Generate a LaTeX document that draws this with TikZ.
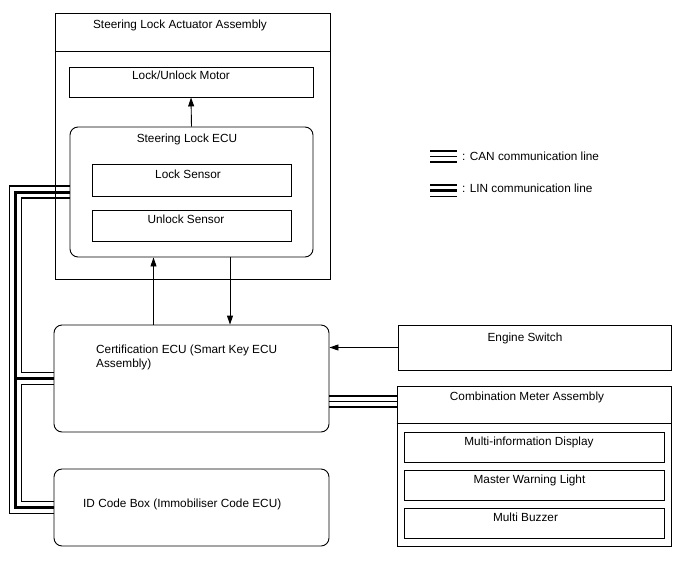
\documentclass[tikz,border=0pt]{standalone}
\usepackage{fontspec}
\setmainfont{Liberation Sans}
\usetikzlibrary{arrows.meta, calc}

\begin{document}
\begin{tikzpicture}[x=1pt,y=-1pt,
  box/.style={draw,line width=0.9pt,inner sep=0pt},
  ecu/.style={box,rounded corners=8pt},
  txt/.style={font=\fontsize{11.8}{14}\selectfont,inner sep=0pt,anchor=base},
  sig/.style={line width=0.9pt,-{Triangle[length=9pt,width=6pt]}},
  linthin/.style={line width=1.2pt},
  linthick/.style={line width=3pt},
  canline/.style={line width=1.5pt}]
  \useasboundingbox (0,0) rectangle (688,560);
  % steering lock actuator assembly
  \node[box,minimum width=275pt,minimum height=266pt] (actuator) at(192.5,146){};
  \draw[line width=0.9pt] ($(actuator.north west)+(0,39)$)--($(actuator.north east)+(0,39)$);
  \node[txt] (actuatortitle) at(180,28.5){Steering Lock Actuator Assembly};
  \node[box,minimum width=244pt,minimum height=30pt] (motor) at(191,82){};
  \node[txt] (motortext) at(181,79.5){Lock/Unlock Motor};
  \node[ecu,minimum width=243pt,minimum height=130pt] (slecu) at(191.5,192){};
  \node[txt] (slecutext) at(187,142.5){Steering Lock ECU};
  \node[box,minimum width=199pt,minimum height=32pt] (locksens) at(191.5,180){};
  \node[txt] (locktext) at(188,178.5){Lock Sensor};
  \node[box,minimum width=199pt,minimum height=31pt] (unlocksens) at(191.5,225.5){};
  \node[txt] (unlocktext) at(186,223.5){Unlock Sensor};
  % certification ecu and id code box
  \node[ecu,minimum width=275pt,minimum height=107pt] (certecu) at(191.5,378.5){};
  \node[txt,anchor=base west,align=left] (certtext) at(96,367.5){Certification ECU (Smart Key ECU\\Assembly)};
  \node[ecu,minimum width=275pt,minimum height=77pt] (idbox) at(191.5,507.5){};
  \node[txt,anchor=base west] (idtext) at(83,507.5){ID Code Box (Immobiliser Code ECU)};
  % engine switch
  \node[box,minimum width=273pt,minimum height=45pt] (engsw) at(534.5,347.5){};
  \node[txt] (engtext) at(525,341.5){Engine Switch};
  % combination meter assembly
  \node[box,minimum width=274pt,minimum height=160pt] (combmeter) at(534,466){};
  \draw[line width=0.9pt] ($(combmeter.north west)+(0,38)$)--($(combmeter.north east)+(0,38)$);
  \node[txt] (combtext) at(527,400.5){Combination Meter Assembly};
  \node[box,minimum width=260pt,minimum height=30pt] (mid) at(534,447){};
  \node[txt] (midtext) at(529,445.5){Multi-information Display};
  \node[box,minimum width=260pt,minimum height=30pt] (mwl) at(534,485){};
  \node[txt] (mwltext) at(529.5,483.5){Master Warning Light};
  \node[box,minimum width=260pt,minimum height=30pt] (buzz) at(534,523){};
  \node[txt] (buzztext) at(525.5,521.5){Multi Buzzer};
  % signal arrows
  \draw[sig] (slecu.north)--(motor.south);
  \draw[sig] ([xshift=-38pt]certecu.north)--([xshift=-38pt]slecu.south);
  \draw[sig] ([xshift=38.5pt]slecu.south)--([xshift=38.5pt]certecu.north);
  \draw[sig] (engsw.west)--(engsw.west -| certecu.east);
  % CAN line
  \foreach \dy/\w in {17.5/1.5pt,23/1.1pt,28.5/1.5pt}{
    \coordinate (cana) at ($(certecu.east)+(0,\dy)$);
    \draw[canline,line width=\w] (cana)--(cana -| combmeter.west);
  }
  % LIN line
  \draw[linthin] ($(slecu.west)+(0,-6)$) -| (9.5,513.5) -- ($(idbox.west)+(0,6)$);
  \draw[linthick] (slecu.west) -| (15.5,507.5) -- (idbox.west);
  \draw[linthick] (15.5,378.5) -- (certecu.west);
  \draw[linthin] ($(slecu.west)+(0,6)$) -| (21.5,372.5) -- ($(certecu.west)+(0,-6)$);
  \draw[linthin] ($(certecu.west)+(0,6)$) -| (21.5,501.5) -- ($(idbox.west)+(0,-6)$);
  % legend
  \coordinate (canleg) at(430,156.5);
  \coordinate (linleg) at(430,190.5);
  \draw[line width=2pt] ($(canleg)+(0,-5.5)$) -- +(27,0);
  \draw[line width=1pt] (canleg) -- +(27,0);
  \draw[line width=2pt] ($(canleg)+(0,5.5)$) -- +(27,0);
  \draw[line width=1.4pt] ($(linleg)+(0,-5.5)$) -- +(27,0);
  \draw[line width=3pt] (linleg) -- +(27,0);
  \draw[line width=1.4pt] ($(linleg)+(0,6)$) -- +(27,0);
  \node[txt,anchor=base west] (cantext) at(462,160){: CAN communication line};
  \node[txt,anchor=base west] (lintext) at(462,192){: LIN communication line};
\end{tikzpicture}
\end{document}
